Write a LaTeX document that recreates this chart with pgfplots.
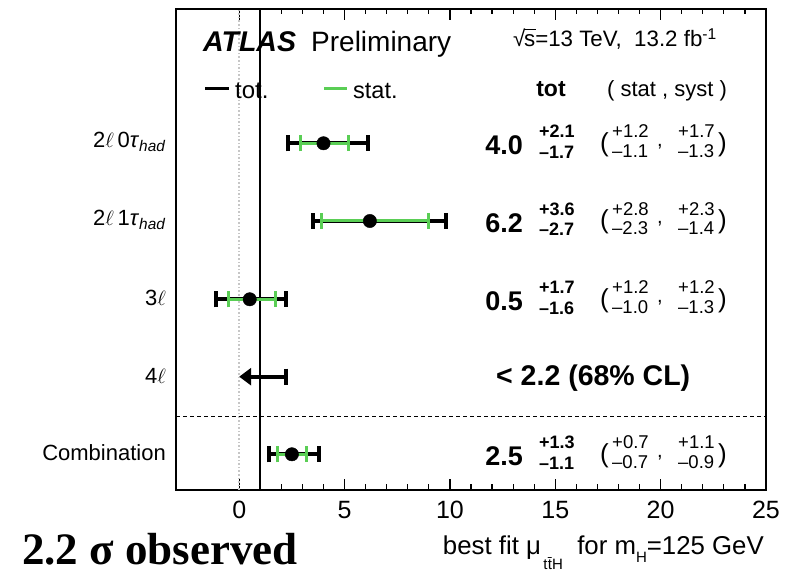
\documentclass[border=0pt]{standalone}
\usepackage{fontspec}
\setmainfont{Liberation Sans}
\newfontfamily\serifbf{Liberation Serif}
\usepackage{pgfplots}
\pgfplotsset{compat=1.18}
\usetikzlibrary{arrows.meta}
\definecolor{statgreen}{RGB}{90,206,85}
\newcommand\fs[1]{\fontsize{#1}{#1}\selectfont}
% row: y, value, up, down, stat up, stat down, syst up, syst down
\newcommand\rowtext[8]{%
  \node[anchor=east, inner sep=0] at (523,#1-2) {\fs{27}\bfseries #2};
  \node[anchor=base west, inner sep=0] at (539,#1+5.5) {\fs{18}\bfseries #3};
  \node[anchor=base west, inner sep=0] at (539,#1-15) {\fs{18}\bfseries #4};
  \node[anchor=west, inner sep=0] at (600,#1-1) {\fs{26}(};
  \node[anchor=base west, inner sep=0] at (612,#1+5.5) {\fs{18.5}#5};
  \node[anchor=base west, inner sep=0] at (612,#1-14) {\fs{18.5}#6};
  \node[anchor=base west, inner sep=0] at (657,#1-3) {\fs{20},};
  \node[anchor=base west, inner sep=0] at (678,#1+5.5) {\fs{18.5}#7};
  \node[anchor=base west, inner sep=0] at (678,#1-14) {\fs{18.5}#8};
  \node[anchor=east, inner sep=0] at (727,#1-1) {\fs{26})};
}
\begin{document}
\begin{tikzpicture}[x=1pt,y=1pt]
\useasboundingbox (0,0) rectangle (788,573);
\begin{axis}[at={(176pt,83pt)}, anchor=south west, scale only axis,
  width=590pt, height=481pt,
  xmin=-3, xmax=25, ymin=83, ymax=564,
  axis line style={line width=1.4pt},
  xtick={0,5,...,25}, minor x tick num=4, xtick pos=both, tick align=inside,
  major tick length=11pt, minor tick length=5.5pt,
  every tick/.style={line width=1.2pt, black},
  ytick=\empty,
  xticklabel style={font=\fs{25}, inner sep=0pt, anchor=north, yshift=-11pt},
  /pgf/number format/assume math mode=true,
  clip=false]
\addplot[gray!45, dotted, line width=1.6pt] coordinates {(0,83) (0,564)};
\addplot[black, line width=1.8pt] coordinates {(1,83) (1,564)};
\addplot[black, line width=1.3pt, dash pattern=on 4pt off 3pt] coordinates {(-3,156.3) (25,156.3)};
% total uncertainties
\addplot[only marks, mark=none, black,
  error bars/.cd, x dir=both, x explicit, error mark=|,
  error bar style={line width=4pt, black},
  error mark options={line width=4pt, black, mark size=8pt}]
coordinates {
  (4.0,429.7) += (2.1,0) -= (1.7,0)
  (6.2,352.0) += (3.6,0) -= (2.7,0)
  (0.5,273.7) += (1.7,0) -= (1.6,0)
  (2.5,118.7) += (1.3,0) -= (1.1,0)
};
% stat uncertainties
\addplot[only marks, mark=none, statgreen,
  error bars/.cd, x dir=both, x explicit, error mark=|,
  error bar style={line width=3pt, statgreen},
  error mark options={line width=3pt, statgreen, mark size=8pt}]
coordinates {
  (4.0,429.7) += (1.2,0) -= (1.1,0)
  (6.2,352.0) += (2.8,0) -= (2.3,0)
  (0.5,273.7) += (1.2,0) -= (1.0,0)
  (2.5,118.7) += (0.7,0) -= (0.7,0)
};
% central values
\addplot[only marks, mark=*, mark size=6.7pt, black] coordinates {
  (4.0,429.7) (6.2,352.0) (0.5,273.7) (2.5,118.7)
};
% 4l upper limit
\addplot[black, line width=4pt, -{Triangle[length=12pt,width=17pt]}] coordinates {(2.2,196.3) (0,196.3)};
\addplot[only marks, mark=|, mark size=8pt, line width=4pt, black] coordinates {(2.2,196.3)};
\end{axis}
% header
\node[anchor=base west, inner sep=0] at (203,521) {\fs{28.5}\bfseries\itshape ATLAS};
\node[anchor=base west, inner sep=0] at (311,521) {\fs{28}Preliminary};
\node[anchor=base west, inner sep=0] at (513,526) {\fs{22.3}√\kern-0.06em\rlap{\rule[0.74em]{0.52em}{0.06em}}s=13 TeV,\ \ 13.2 fb\textsuperscript{-1}};
% legend
\draw[black, line width=3pt] (205,484) -- (229,484);
\node[anchor=base west, inner sep=0] at (235,474) {\fs{24}tot.};
\draw[statgreen, line width=3pt] (324,484) -- (347,484);
\node[anchor=base west, inner sep=0] at (353,474) {\fs{23.5}stat.};
\node[anchor=base, inner sep=0] at (551,476) {\fs{23}\bfseries tot};
\node[anchor=base, inner sep=0] at (667,476) {\fs{22}( stat , syst )};
% category labels
\node[anchor=east, inner sep=0] at (166,431) {\fs{22}2$\ell$\,0\textit{τ}\textsubscript{\textit{had}}};
\node[anchor=east, inner sep=0] at (166,353) {\fs{22}2$\ell$\,1\textit{τ}\textsubscript{\textit{had}}};
\node[anchor=east, inner sep=0] at (166,275) {\fs{22}3$\ell$};
\node[anchor=east, inner sep=0] at (166,197) {\fs{22}4$\ell$};
\node[anchor=east, inner sep=0] at (166,120) {\fs{22}Combination};
% values
\rowtext{429.7}{4.0}{+2.1}{–1.7}{+1.2}{–1.1}{+1.7}{–1.3}
\rowtext{352.0}{6.2}{+3.6}{–2.7}{+2.8}{–2.3}{+2.3}{–1.4}
\rowtext{273.7}{0.5}{+1.7}{–1.6}{+1.2}{–1.0}{+1.2}{–1.3}
\rowtext{118.7}{2.5}{+1.3}{–1.1}{+0.7}{–0.7}{+1.1}{–0.9}
\node[anchor=west, inner sep=0] at (496,194.5) {\fs{28.5}\bfseries < 2.2 (68\% CL)};
% x label
\node[anchor=base east, inner sep=0] at (764,18) {\fs{25.8}best fit μ\raisebox{-0.55em}{\fs{15}\,t\kern0.02em\=tH}\ \ for m\raisebox{-0.3em}{\fs{15}H}=125 GeV};
% overlay text
\node[anchor=base west, inner sep=0] at (22,8) {\serifbf\fs{45}\bfseries 2.2 σ observed};
\end{tikzpicture}
\end{document}
